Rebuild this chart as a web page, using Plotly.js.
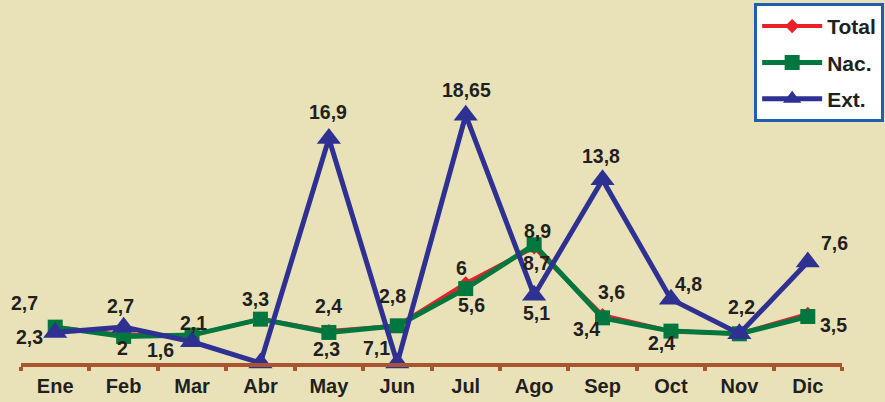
<!DOCTYPE html>
<html>
<head>
<meta charset="utf-8">
<script src="https://cdn.plot.ly/plotly-3.0.1.min.js"></script>
<style>
html,body{margin:0;padding:0;background:#E9E2B9;}
#chart{width:885px;height:402px;}
</style>
</head>
<body>
<div id="chart"></div>
<script>
const months = ["Ene","Feb","Mar","Abr","May","Jun","Jul","Ago","Sep","Oct","Nov","Dic"];
const totalVals = [2.7, 2.1, 2.1, 3.3, 2.4, 2.8, 6.0, 8.7, 3.6, 2.4, 2.2, 3.7];
const nacVals   = [2.7, 2.0, 2.1, 3.3, 2.3, 2.8, 5.6, 8.9, 3.4, 2.4, 2.2, 3.5];
const extVals   = [2.3, 2.7, 1.6, 0, 16.9, 0, 18.65, 5.1, 13.8, 4.8, 2.2, 7.6];

// data labels as printed on the chart: [monthIndex, series, text, dx, dy]
const labelTexts = [
  [0, "nac", "2,7", -31, -24],
  [0, "ext", "2,3", -26, 5],
  [1, "ext", "2,7", -3, -21],
  [1, "nac", "2", -1, 12],
  [2, "nac", "2,1", 1, -12],
  [2, "ext", "1,6", -32, 8],
  [3, "nac", "3,3", -5, -20],
  [4, "tot", "2,4", 0, -25],
  [4, "nac", "2,3", -2, 17],
  [4, "ext", "16,9", -1, -26],
  [5, "nac", "2,8", -5, -30],
  [5, "ext", "7,1", -21, -15],
  [6, "tot", "6", -4, -15],
  [6, "nac", "5,6", 6, 16],
  [6, "ext", "18,65", 1, -25],
  [7, "nac", "8,9", 3, -14],
  [7, "tot", "8,7", 2, 16],
  [7, "ext", "5,1", 2, 18],
  [8, "tot", "3,6", 9, -23],
  [8, "nac", "3,4", -16, 11],
  [8, "ext", "13,8", -2, -24],
  [9, "ext", "4,8", 18, -15],
  [9, "nac", "2,4", -9, 12],
  [10, "nac", "2,2", 2, -27],
  [11, "ext", "7,6", 27, -19],
  [11, "nac", "3,5", 26, 8]
];

const seriesMap = {tot: totalVals, nac: nacVals, ext: extVals};
const annotations = labelTexts.map(l => ({
  x: months[l[0]], y: seriesMap[l[1]][l[0]], xref: "x", yref: "y",
  text: l[2], showarrow: false, xshift: l[3], yshift: -l[4],
  font: {family: "Liberation Sans, Arial, sans-serif", size: 19.5, color: "#231F20", weight: 700}
}));

const traces = [
  {x: months, y: totalVals, name: "Total", legendgroup: "a", mode: "lines+markers",
   line: {color: "#E8202A", width: 4},
   marker: {symbol: "diamond", size: 11, color: "#E8202A"}, cliponaxis: false},
  {x: months, y: nacVals, name: "Nac.", legendgroup: "b", mode: "lines+markers",
   line: {color: "#00773E", width: 5},
   marker: {symbol: "square", size: 15, color: "#00773E"}, cliponaxis: false},
  {x: months, y: extVals, name: "Ext.", legendgroup: "c", mode: "lines+markers",
   line: {color: "#2E3192", width: 5},
   marker: {symbol: "triangle-up", size: 21, color: "#2E3192"}, cliponaxis: false}
];

const layout = {
  width: 885, height: 402,
  paper_bgcolor: "#E9E2B9", plot_bgcolor: "rgba(0,0,0,0)",
  margin: {l: 21, r: 43, t: 10, b: 39, autoexpand: false},
  showlegend: true,
  legend: {
    x: 0.893, xanchor: "left", y: 1.02, yanchor: "top",
    bgcolor: "#FFFFFF", bordercolor: "#1F5FAF", borderwidth: 3,
    font: {family: "Liberation Sans, Arial, sans-serif", size: 21, color: "#231F20", weight: 700},
    traceorder: "grouped", tracegroupgap: 6, itemwidth: 60
  },
  xaxis: {
    type: "category", range: [-0.5, 11.5],
    showline: true, linecolor: "#A9552F", linewidth: 4,
    ticks: "outside", tickson: "boundaries", ticklen: 4, tickwidth: 4, tickcolor: "#A9552F",
    showgrid: false, zeroline: false, ticklabelstandoff: 2,
    tickfont: {family: "Liberation Sans, Arial, sans-serif", size: 20, color: "#231F20", weight: 700}
  },
  yaxis: {range: [0, 26.57], visible: false, showgrid: false, zeroline: false, fixedrange: true},
  annotations: annotations
};

Plotly.newPlot("chart", traces, layout, {displayModeBar: false, staticPlot: true});
</script>
</body>
</html>
